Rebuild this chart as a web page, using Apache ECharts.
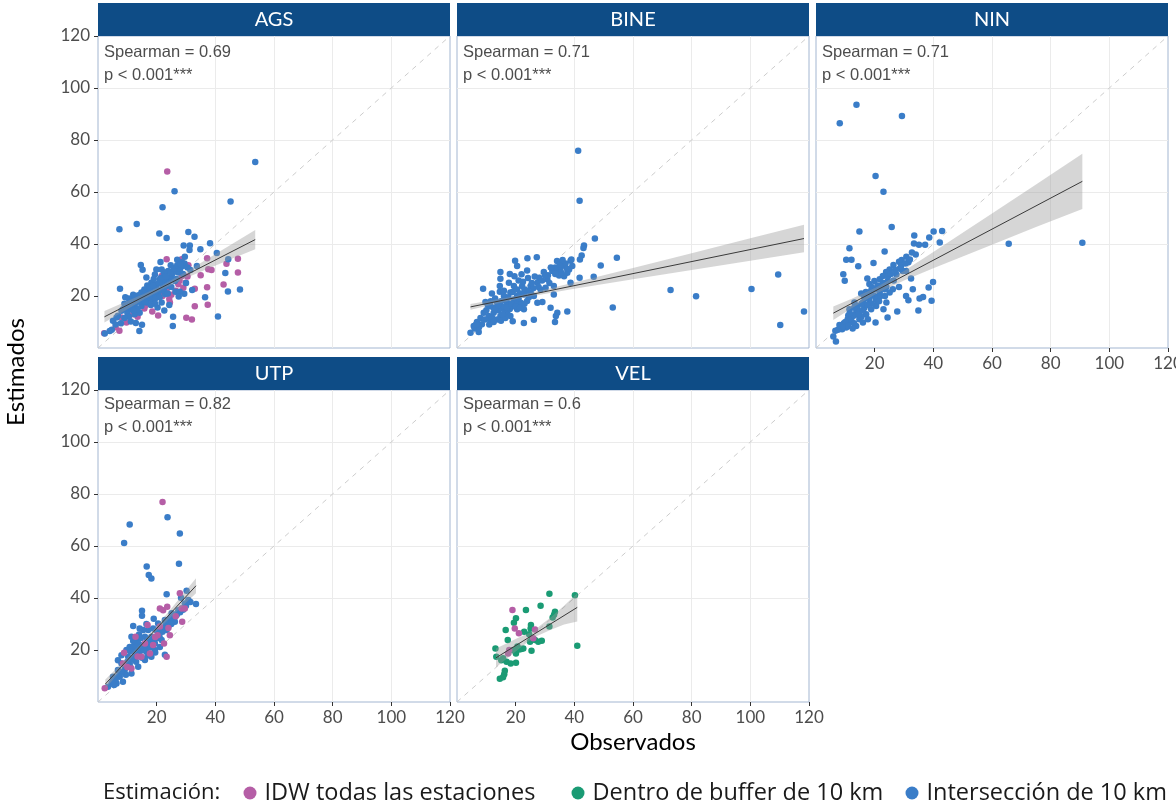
<!DOCTYPE html>
<html>
<head>
<meta charset="utf-8">
<script src="https://cdn.jsdelivr.net/npm/echarts@6/dist/echarts.min.js"></script>
<style>
html,body{margin:0;padding:0;background:#fff;}
#chart{width:1176px;height:804px;}
</style>
</head>
<body>
<div id="chart"></div>
<script>
// Facets, correlation labels, axis ticks and estimation groups
const panels = ['AGS', 'BINE', 'NIN', 'UTP', 'VEL'];
const spearman = ['0.69', '0.71', '0.71', '0.82', '0.6'];
const pLabel = 'p < 0.001***';
const tickValues = [20, 40, 60, 80, 100, 120];
const axisRange = [0, 120];
const groups = ['IDW todas las estaciones', 'Dentro de buffer de 10 km', 'Intersección de 10 km'];
const groupColors = ['#b55ea6', '#1a9b74', '#3a7dc8'];

// Points: [observado, estimado]
const agsIDW = [[23.6,67.9],[37.2,34.5],[47.7,34.3],[43.8,32.4],[47.7,29.0],[37.6,30.3],[38.7,30.0],[30.8,31.8],[28.5,34.1],[42.8,24.4],[37.2,23.4],[33.0,16.1],[37.4,16.6],[30.1,11.6],[32.0,11.0],[20.5,12.5],[24.3,18.8],[24.5,17.5],[27.4,24.5],[29.9,25.1],[29.1,23.2],[21.7,27.7],[21.1,21.6],[16.0,16.2],[10.8,14.9],[9.7,9.8],[7.3,6.6],[2.1,5.7],[8.0,11.7],[17.1,18.8],[23.4,34.1],[28.6,27.7],[33.0,22.8],[23.4,22.6],[15.8,15.2],[18.5,14.0],[12.0,13.0],[26.5,22.0],[19.0,17.5],[22.0,20.0],[25.0,20.5],[27.8,26.0],[30.5,27.5],[35.0,28.0],[13.5,12.0],[6.0,8.0]];
const agsInter = [[53.6,71.5],[26.1,60.3],[45.2,56.3],[22.0,54.1],[7.3,45.7],[13.2,47.7],[20.9,44.0],[23.4,42.3],[30.8,44.6],[32.9,42.8],[38.2,40.3],[29.2,39.4],[31.3,39.4],[31.2,37.7],[34.9,38.0],[40.5,36.5],[29.6,35.1],[27.0,33.9],[21.3,33.1],[14.6,31.9],[15.2,30.1],[19.9,30.2],[24.8,31.8],[26.0,30.0],[28.9,31.5],[33.7,31.5],[44.4,34.1],[43.4,28.8],[44.3,21.7],[48.4,22.5],[36.5,19.5],[32.1,22.3],[29.4,20.9],[26.4,21.6],[22.9,20.8],[7.5,22.8],[9.3,19.5],[16.5,27.1],[18.2,25.1],[21.7,17.5],[24.3,16.5],[22.6,14.4],[25.6,12.0],[25.5,8.5],[40.9,12.1],[15.0,8.9],[14.1,6.5],[12.9,9.6],[11.2,10.2],[5.1,10.5],[4.7,7.0],[2.3,5.6],[6.8,12.4],[8.5,14.9],[10.0,13.6],[12.5,16.2],[13.7,18.8],[16.0,20.0],[17.7,21.3],[18.8,23.2],[19.9,24.5],[21.1,26.4],[22.8,28.3],[23.9,29.6],[25.1,27.7],[27.4,29.0],[28.5,33.0],[21.7,30.2],[19.4,28.3],[17.1,22.6],[14.8,21.3],[12.0,18.8],[10.8,17.5],[9.7,15.6],[8.0,14.3],[6.3,11.7],[14.8,16.2],[16.5,17.5],[18.2,18.8],[20.5,20.7],[14.2,13.6],[12.5,13.0],[20.3,15.6],[27.9,21.6],[23.6,23.9],[24.5,26.4],[26.2,25.8],[22.2,25.8],[16.8,24.0],[18.0,22.0],[19.0,26.5],[20.0,23.0],[21.0,22.0],[22.0,24.0],[23.0,26.5],[24.0,24.5],[25.5,28.8],[26.8,31.0],[28.0,30.5],[29.5,32.5],[30.5,31.0],[13.0,17.5],[11.5,15.0],[15.5,19.0],[17.0,19.5],[18.5,20.0],[19.5,19.0],[12.0,20.5],[10.5,19.0],[9.0,17.0],[15.8,22.5],[16.2,20.8],[17.5,23.5],[18.8,24.0],[19.6,21.8],[20.8,25.0],[21.5,27.0],[22.5,29.0],[23.2,27.5],[24.8,29.0],[25.8,30.5],[27.0,31.8],[28.2,32.0],[13.5,15.0],[12.0,14.5],[10.5,12.0],[9.0,11.5],[7.8,9.5],[6.0,9.0],[4.0,6.5],[11.0,17.0],[13.8,20.3],[14.5,18.0],[16.0,17.8],[18.0,16.5],[19.5,17.0],[21.0,19.5],[22.5,22.0],[23.8,21.0],[25.0,23.5],[26.8,26.5],[29.0,28.5],[31.5,30.0],[30.0,25.0],[27.5,19.8]];

const bineInter = [[41.3,75.9],[41.8,56.6],[47.0,42.1],[43.3,39.4],[43.1,38.5],[42.5,35.6],[41.9,34.0],[54.5,34.7],[49.0,31.7],[46.6,27.4],[41.8,27.0],[53.1,15.6],[37.6,14.0],[34.2,13.6],[33.4,10.0],[33.7,12.3],[26.2,10.9],[22.8,9.6],[19.0,10.3],[19.8,33.6],[20.5,31.5],[24.0,34.5],[27.2,34.9],[14.8,29.2],[14.8,26.6],[19.6,27.6],[22.0,28.4],[24.2,26.9],[23.9,29.8],[34.1,33.5],[36.2,31.7],[38.7,33.6],[39.3,31.5],[29.6,29.2],[32.5,29.6],[34.8,27.9],[37.6,28.9],[38.7,25.1],[8.9,22.8],[11.9,21.0],[14.6,23.8],[14.6,21.6],[17.7,25.1],[19.4,23.8],[22.2,23.8],[25.1,23.8],[27.4,25.1],[30.8,26.4],[33.0,23.8],[33.0,20.6],[31.9,15.5],[29.1,17.7],[27.4,17.4],[9.7,17.7],[11.4,16.1],[13.7,17.4],[16.0,20.0],[18.2,21.3],[20.5,20.0],[22.8,20.6],[25.1,21.3],[17.1,17.4],[19.4,16.1],[21.7,17.4],[23.9,18.1],[9.1,13.6],[10.8,12.3],[12.5,13.6],[14.8,12.3],[17.1,13.6],[18.2,12.3],[13.7,11.0],[6.8,10.0],[5.7,8.5],[4.6,5.9],[7.4,6.2],[8.5,9.1],[11.4,10.4],[16.0,14.9],[20.5,14.9],[22.8,14.9],[26.2,20.0],[28.5,22.5],[30.2,23.2],[34.2,29.6],[35.3,30.8],[36.5,27.6],[38.2,30.2],[19.4,18.7],[12.5,15.5],[72.8,22.3],[81.5,19.9],[100.4,22.7],[109.5,28.3],[110.2,8.8],[118.3,14.0],[15.5,16.0],[16.5,18.5],[18.0,15.0],[20.0,17.5],[21.0,19.0],[23.0,22.5],[24.5,19.5],[26.0,23.0],[28.0,27.0],[31.0,28.0],[33.5,31.0],[35.5,29.0],[37.0,32.5],[10.0,14.5],[12.0,11.5],[14.0,14.5],[15.0,10.5],[16.5,11.5],[8.0,11.5],[6.0,7.5],[13.0,19.0],[15.0,18.0],[17.5,19.5],[19.0,21.5],[20.5,22.5],[21.5,21.0],[22.5,25.5],[24.0,22.0],[25.5,25.0],[26.5,27.5],[27.8,23.5],[29.0,26.0],[30.0,28.0],[31.5,25.0],[32.0,31.0],[33.5,28.5],[35.0,32.0],[36.0,33.8],[37.5,30.5],[39.0,34.0],[10.5,16.5],[11.5,18.0],[13.0,15.0],[14.0,16.5],[15.5,13.0],[17.0,15.5],[18.5,17.0],[20.0,16.0],[21.5,15.5],[23.0,17.0],[9.5,11.0],[11.0,9.0],[12.5,10.0],[7.5,8.0],[6.5,9.0],[16.0,22.0],[18.0,28.5],[21.0,26.0]];

const ninInter = [[13.8,93.6],[8.1,86.4],[29.3,89.2],[20.3,66.2],[23.0,60.1],[25.8,46.5],[14.8,44.8],[11.4,38.4],[10.3,33.9],[12.1,33.9],[14.4,31.4],[9.3,28.4],[9.8,25.9],[19.6,32.7],[23.4,37.1],[33.5,43.3],[40.1,44.8],[43.0,45.0],[38.6,42.5],[42.2,40.6],[37.2,39.7],[35.1,39.7],[33.4,40.2],[32.7,36.7],[30.8,35.1],[29.2,33.8],[28.3,33.2],[26.4,31.9],[25.1,30.2],[23.9,29.2],[22.8,27.7],[21.7,26.4],[19.9,25.8],[18.2,24.6],[17.5,26.7],[30.7,29.6],[32.4,26.7],[28.3,23.5],[33.0,22.6],[39.9,25.4],[38.4,23.3],[36.5,19.6],[35.3,19.0],[39.4,18.2],[30.7,20.0],[31.5,18.4],[34.9,14.4],[27.7,14.0],[24.4,11.7],[23.0,14.9],[24.0,17.5],[25.1,21.3],[26.2,22.6],[20.3,9.8],[15.4,21.0],[16.0,17.5],[18.2,18.7],[19.9,20.0],[21.7,21.3],[23.4,22.6],[20.5,16.2],[18.8,14.9],[17.1,13.0],[14.8,11.1],[11.4,14.9],[12.5,12.4],[11.4,9.8],[13.7,8.5],[10.3,7.9],[8.0,8.8],[8.9,7.2],[6.6,6.6],[5.9,4.4],[6.8,2.5],[16.0,9.8],[17.7,11.1],[14.2,16.2],[13.1,17.5],[16.5,19.4],[22.8,25.1],[24.5,25.8],[27.4,28.3],[29.6,29.6],[22.2,23.2],[21.1,19.4],[18.8,22.0],[10.8,11.1],[13.7,13.6],[65.7,40.1],[90.8,40.5],[15.0,14.0],[16.5,15.5],[19.0,17.0],[20.5,18.5],[22.0,20.0],[12.0,10.5],[13.0,9.5],[15.5,12.0],[9.5,9.5],[11.0,12.5],[17.5,16.5],[24.0,23.5],[26.5,26.0],[28.5,30.5],[31.5,33.0],[34.0,36.0],[14.0,15.0],[15.5,17.0],[17.0,19.0],[18.5,20.5],[20.0,22.5],[21.0,24.0],[23.0,24.5],[24.5,27.5],[25.5,28.5],[27.0,30.0],[29.0,31.5],[30.5,32.5],[32.0,34.0],[12.0,11.5],[13.0,12.5],[14.5,13.0],[16.0,14.5],[10.0,10.0],[11.0,8.5],[12.5,7.5],[9.0,8.0],[7.5,7.0],[17.0,21.5],[19.0,23.5],[21.5,18.0],[23.5,20.0],[13.0,15.5],[11.5,13.5]];

const utpIDW = [[22.0,76.9],[21.1,36.0],[22.2,35.3],[23.6,36.6],[27.9,41.8],[28.5,36.0],[29.6,36.0],[28.7,30.9],[24.5,25.7],[23.4,17.4],[20.3,25.7],[18.8,21.9],[17.7,18.7],[16.9,29.6],[12.8,25.1],[8.9,18.9],[8.5,14.8],[2.3,5.3],[21.1,29.0],[16.0,22.5],[11.4,12.9],[14.8,17.4],[19.5,25.0],[24.0,28.5],[26.5,33.0],[13.5,17.5],[10.0,13.5],[22.5,22.5]];
const utpInter = [[10.8,68.3],[8.9,61.2],[23.7,71.1],[27.9,64.8],[27.6,53.2],[16.6,52.1],[17.3,48.8],[18.2,47.5],[23.4,41.4],[30.2,42.8],[33.4,37.7],[28.3,40.1],[26.2,32.8],[24.5,32.1],[15.0,35.1],[15.0,33.2],[12.0,29.2],[22.8,18.2],[29.6,37.9],[27.4,35.3],[25.1,34.1],[22.8,31.5],[20.5,30.2],[18.8,28.3],[17.1,27.7],[15.4,27.7],[14.2,28.3],[11.4,25.1],[10.8,21.2],[13.1,23.8],[16.0,25.1],[18.2,25.1],[20.5,26.4],[21.7,23.8],[19.4,22.5],[17.1,21.2],[14.8,20.0],[12.5,18.7],[10.3,17.4],[8.0,14.8],[6.8,12.3],[5.1,9.7],[4.6,7.1],[3.4,5.9],[6.3,7.1],[8.5,7.8],[11.4,11.0],[13.7,13.6],[16.0,16.2],[18.2,17.4],[10.8,14.8],[9.1,12.3],[7.4,9.7],[12.5,16.2],[14.2,18.0],[16.5,19.3],[19.4,20.0],[21.1,21.2],[23.4,27.7],[24.5,30.2],[26.2,30.9],[30.8,39.2],[13.7,22.5],[9.7,20.0],[12.0,21.2],[6.8,16.1],[8.0,18.0],[15.5,22.0],[17.0,24.0],[18.5,22.5],[20.0,24.5],[21.5,28.0],[23.0,29.0],[25.5,31.5],[26.8,33.5],[28.5,36.0],[13.0,15.5],[11.0,13.5],[9.5,10.5],[7.5,11.0],[5.5,6.5],[12.5,20.0],[14.5,24.5],[16.5,30.0],[19.0,32.0],[10.0,15.5],[11.5,16.5],[12.5,17.5],[13.5,19.5],[14.5,21.0],[15.5,20.0],[16.5,23.0],[17.5,23.5],[18.0,21.0],[19.0,24.0],[20.0,27.5],[21.0,25.0],[22.0,27.0],[23.0,30.5],[24.0,29.0],[25.0,30.0],[26.0,32.5],[27.0,34.0],[28.0,34.5],[29.0,35.5],[30.0,37.0],[31.5,38.5],[9.0,14.0],[8.0,11.5],[7.0,10.0],[6.0,8.5],[5.0,8.0],[13.0,21.5],[15.0,17.0],[17.0,18.0],[19.5,19.0],[11.0,19.5],[12.0,23.5],[14.0,26.0]];

const velIDW = [[18.9,35.4],[19.7,28.3],[21.1,26.4],[26.6,27.9],[26.0,24.5],[17.8,20.0],[17.4,18.7]];
const velBuffer = [[31.5,41.6],[40.2,41.1],[28.5,37.0],[23.5,35.4],[33.4,34.7],[33.1,33.6],[32.6,32.5],[20.1,32.2],[19.4,30.5],[16.6,27.7],[22.9,27.0],[25.2,29.6],[25.1,28.3],[24.6,26.1],[31.5,29.0],[25.4,24.1],[24.9,23.2],[26.6,23.8],[28.9,23.6],[27.7,23.2],[17.3,23.8],[21.9,20.4],[20.6,21.3],[19.1,20.0],[13.1,20.6],[13.4,17.4],[15.7,16.8],[16.9,15.5],[18.3,14.8],[20.1,15.1],[20.1,18.7],[25.4,19.7],[16.3,12.0],[16.1,10.7],[14.6,8.9],[15.7,9.5],[41.0,21.6],[22.6,20.6],[21.2,20.2],[15.1,16.1]];

// Linear fits: end points [x, y]
const fitAGS = [[2.2, 12.0], [53.6, 41.7]];
const fitBINE = [[4.6, 15.8], [118.3, 42.1]];
const fitNIN = [[5.9, 13.4], [90.8, 64.1]];
const fitUTP = [[2.5, 6.9], [33.4, 44.7]];
const fitVEL = [[13.3, 17.0], [41.0, 36.4]];

// Confidence bands: [x, lower, upper]
const bandAGS = [[2.2,9.8,14.2],[10,14.9,18.1],[16,18.9,21.0],[22,22.6,24.2],[30,26.9,29.3],[35,29.3,32.7],[45,34.0,39.5],[53.6,38.0,45.4]];
const bandBINE = [[4.6,14.7,16.9],[22,19.2,20.4],[40,22.8,25.2],[60,26.4,30.8],[80,30.0,36.4],[100,33.6,42.2],[118.3,36.8,47.4]];
const bandNIN = [[5.9,10.8,16.0],[12,15.2,18.8],[21,21.2,23.6],[30,26.0,29.6],[40,30.7,36.9],[60,39.7,51.7],[75,46.5,62.9],[90.8,53.5,74.7]];
const bandUTP = [[2.5,5.1,8.7],[10,15.2,17.0],[15,21.7,22.7],[20,27.4,29.2],[25,32.8,36.0],[29,37.1,41.5],[33.4,41.8,47.6]];
const bandVEL = [[13.3,13.4,20.6],[20,19.4,24.2],[26,24.7,27.3],[32,27.8,32.6],[36.5,29.8,37.0],[41.0,31.0,41.8]];

const panelPoints = [
  [[0, agsIDW], [2, agsInter]],
  [[2, bineInter]],
  [[2, ninInter]],
  [[2, utpInter], [0, utpIDW]],
  [[1, velBuffer], [0, velIDW]]
];
const panelFits = [fitAGS, fitBINE, fitNIN, fitUTP, fitVEL];
const panelBands = [bandAGS, bandBINE, bandNIN, bandUTP, bandVEL];

// Layout of the 3 + 2 facet grid
const gridLeft = [98, 457, 816, 98, 457];
const gridTop = [36, 36, 36, 390, 390];
const W = 352, H = 312;
const showX = [false, false, true, true, true];
const showY = [true, false, false, true, false];

const grids = [], xAxes = [], yAxes = [], series = [], graphics = [];

panels.forEach((name, i) => {
  grids.push({
    left: gridLeft[i], top: gridTop[i], width: W, height: H,
    show: true, backgroundColor: '#ffffff', borderColor: '#a3b6d1', borderWidth: 1,
    containLabel: false, outerBoundsMode: 'none'
  });
  const common = {
    type: 'value', gridIndex: i, min: axisRange[0], max: axisRange[1], interval: 20,
    axisLine: { show: false },
    splitLine: { show: true, showMinLine: false, showMaxLine: false, lineStyle: { color: '#ebebeb', width: 1 } }
  };
  xAxes.push(Object.assign({}, common, {
    axisTick: { show: showX[i], length: 4, customValues: tickValues, lineStyle: { color: '#333333' } },
    axisLabel: { show: showX[i], customValues: tickValues, color: '#4d4d4d', fontSize: 17, fontFamily: 'Lato', margin: 7, hideOverlap: false,
      formatter: v => (v === 0 ? '' : String(v)) }
  }));
  yAxes.push(Object.assign({}, common, {
    axisTick: { show: showY[i], length: 4, customValues: tickValues, lineStyle: { color: '#333333' } },
    axisLabel: { show: showY[i], customValues: tickValues, color: '#4d4d4d', fontSize: 17, fontFamily: 'Lato', margin: 8, hideOverlap: false,
      formatter: v => (v === 0 ? '' : String(v)) }
  }));

  // 1:1 reference line
  series.push({
    type: 'line', xAxisIndex: i, yAxisIndex: i, silent: true, z: 2,
    data: [[axisRange[0], axisRange[0]], [axisRange[1], axisRange[1]]],
    symbol: 'none', lineStyle: { color: '#cccccc', width: 1, type: [5, 5] }
  });

  // observation points
  panelPoints[i].forEach(([g, pts]) => {
    series.push({
      type: 'scatter', name: groups[g], xAxisIndex: i, yAxisIndex: i, z: 3,
      data: pts, symbol: 'circle', symbolSize: 6.5,
      itemStyle: { color: groupColors[g], opacity: 1 }
    });
  });

  // confidence band of the linear fit
  const rows = panelBands[i];
  series.push({
    type: 'custom', xAxisIndex: i, yAxisIndex: i, silent: true, z: 4,
    data: rows.map(r => [r[0], r[1], r[2]]),
    encode: { x: 0, y: [1, 2] },
    renderItem: function (params, api) {
      if (params.dataIndex !== 0) return null;
      const upper = rows.map(r => api.coord([r[0], r[2]]));
      const lower = rows.map(r => api.coord([r[0], r[1]])).reverse();
      return {
        type: 'polygon',
        shape: { points: upper.concat(lower) },
        style: { fill: 'rgba(153,153,153,0.4)' }
      };
    }
  });

  // fitted line
  series.push({
    type: 'line', xAxisIndex: i, yAxisIndex: i, silent: true, z: 5,
    data: panelFits[i], symbol: 'none',
    lineStyle: { color: '#3a3a3a', width: 1 }
  });

  // strip header
  graphics.push({
    type: 'rect', shape: { x: gridLeft[i], y: gridTop[i] - 33, width: W, height: 33 },
    style: { fill: '#0e4c86' }, z: 10
  });
  graphics.push({
    type: 'text', x: gridLeft[i] + W / 2, y: gridTop[i] - 16, z: 11,
    style: { text: name, fill: '#ffffff', font: '20px Lato', align: 'center', verticalAlign: 'middle', textAlign: 'center', textVerticalAlign: 'middle' }
  });
  // correlation annotation
  const dy = i < 3 ? 16 : 14;
  graphics.push({
    type: 'text', x: gridLeft[i] + 6, y: gridTop[i] + dy, z: 11,
    style: { text: 'Spearman = ' + spearman[i], fill: '#4d4d4d', font: '16.5px "Liberation Sans", Arial, sans-serif', align: 'left', verticalAlign: 'middle', textAlign: 'left', textVerticalAlign: 'middle' }
  });
  graphics.push({
    type: 'text', x: gridLeft[i] + 6, y: gridTop[i] + dy + 23, z: 11,
    style: { text: pLabel, fill: '#4d4d4d', font: '16.5px "Liberation Sans", Arial, sans-serif', align: 'left', verticalAlign: 'middle', textAlign: 'left', textVerticalAlign: 'middle' }
  });
});

// axis titles and legend caption
graphics.push({
  type: 'text', x: 633, y: 742, z: 11,
  style: { text: 'Observados', fill: '#000000', font: '24px Lato', align: 'center', verticalAlign: 'middle', textAlign: 'center', textVerticalAlign: 'middle' }
});
graphics.push({
  type: 'text', x: 16, y: 372, rotation: Math.PI / 2, z: 11,
  style: { text: 'Estimados', fill: '#000000', font: '24px Lato', align: 'center', verticalAlign: 'middle', textAlign: 'center', textVerticalAlign: 'middle' }
});
graphics.push({
  type: 'text', x: 103, y: 793, z: 11,
  style: { text: 'Estimación:', fill: '#1a1a1a', font: '22px "Open Sans"', align: 'left', verticalAlign: 'middle', textAlign: 'left', textVerticalAlign: 'middle' }
});

const legendLeft = [243.5, 571.5, 905.5];
const legends = groups.map((g, k) => ({
  data: [{ name: g, icon: 'circle' }],
  left: legendLeft[k], top: 781,
  itemWidth: 13, itemHeight: 13, itemGap: 0, padding: 0,
  selectedMode: false,
  textStyle: { fontFamily: 'Open Sans', fontSize: 23.5, color: '#1a1a1a', padding: [0, 0, 0, 3] }
}));

const chart = echarts.init(document.getElementById('chart'), null, { renderer: 'canvas' });
chart.setOption({
  animation: false,
  backgroundColor: '#ffffff',
  grid: grids,
  xAxis: xAxes,
  yAxis: yAxes,
  legend: legends,
  series: series,
  graphic: graphics
});
</script>
</body>
</html>
